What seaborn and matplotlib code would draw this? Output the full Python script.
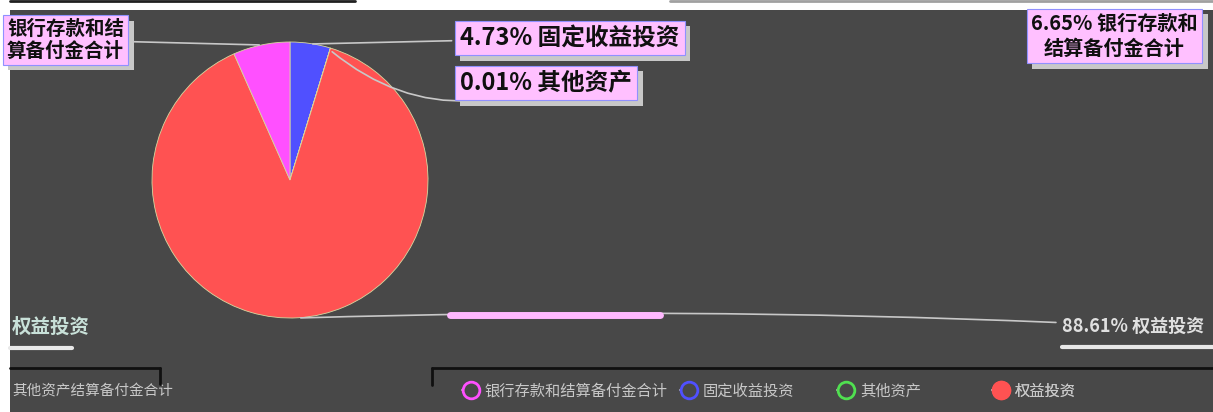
import matplotlib
matplotlib.use("Agg")
import matplotlib.pyplot as plt
import seaborn as sns
from matplotlib.lines import Line2D
from matplotlib import patheffects as pe

sns.set_theme(style="dark")
plt.rcParams['font.family'] = ['Noto Sans CJK SC', 'DejaVu Sans']

# ---- data ----
categories = ["固定收益投资", "其他资产", "权益投资", "银行存款和结算备付金合计"]
values = [4.73, 0.01, 88.61, 6.65]
colors = ["#5050ff", "#50e050", "#ff5252", "#ff50ff"]
legend_order = ["银行存款和结算备付金合计", "固定收益投资", "其他资产", "权益投资"]
legend_x = [462, 680, 837, 992]

W, H = 1213, 412
BG = "#484848"
fig = plt.figure(figsize=(W / 100, H / 100), dpi=100, facecolor="white")
ax = fig.add_axes([10 / W, 0, (W - 10) / W, (H - 10) / H])

cx, cy, r = 290, 232, 138
wedges, _ = ax.pie(values, colors=colors, startangle=90, counterclock=False,
                   center=(cx, cy), radius=r,
                   wedgeprops=dict(edgecolor="#d8d8a0", linewidth=0.6))
ax.set_frame_on(True)
ax.patch.set_visible(True)
ax.set_facecolor(BG)
for s in ax.spines.values():
    s.set_visible(False)
ax.set_xticks([]); ax.set_yticks([])
ax.set_xlim(10, W); ax.set_ylim(0, H - 10)
ax.set_aspect("equal", adjustable="box")

box = dict(boxstyle="square,pad=0.22", fc="#ffc0ff", ec="#9090ff", lw=0.8)
shadow = [pe.withSimplePatchShadow(offset=(4, -4), shadow_rgbFace="#c8c8c8", alpha=1)]
line_kw = dict(arrowstyle="-", color="#c8c8c8", lw=1.2)
FS = 17

def label(text, xy, xytext, ha, rad=0.0, fs=FS):
    t = ax.annotate(text, xy=xy, xytext=xytext, ha=ha, va="center",
                    fontsize=fs, fontweight="bold", color="#101010",
                    multialignment="center", bbox=box, annotation_clip=False,
                    arrowprops=dict(connectionstyle=f"arc3,rad={rad}", **line_kw))
    t.get_bbox_patch().set_path_effects(shadow)
    return t

label(f"{values[0]:.2f}% {categories[0]}", (310, 368), (460, 374), "left")
label(f"{values[1]:.2f}% {categories[1]}", (330, 362), (460, 329), "left", rad=-0.3)
label("银行存款和结\n算备付金合计", (262, 367), (124, 372), "right", fs=14)
t = ax.text(1031, 376, f"{values[3]:.2f}% 银行存款和\n结算备付金合计", ha="left", va="center",
            fontsize=14.5, fontweight="bold", color="#101010", multialignment="center", bbox=box)
t.get_bbox_patch().set_path_effects(shadow)

# equity label at bottom right
ax.annotate(f"{values[2]:.2f}% {categories[2]}", xy=(298, 94), xytext=(1062, 86),
            ha="left", va="center", fontsize=13, fontweight="bold", color="#e0e0e0",
            arrowprops=dict(connectionstyle="arc3,rad=0.02", **line_kw), annotation_clip=False)
ax.text(12, 85, categories[2], ha="left", va="center", fontsize=14, fontweight="bold",
        color="#c8e0d8")

# underlines / fragments
fig.add_artist(Line2D([1062 / W, 1], [1 - 347 / H] * 2, color="#e8e8e8", lw=3))
fig.add_artist(Line2D([10 / W, 72 / W], [1 - 348 / H] * 2, color="#e8e8e8", lw=3))
fig.add_artist(Line2D([450 / W, 660 / W], [1 - 315 / H] * 2, color="#ffb8ff", lw=5))

# top border lines
fig.add_artist(Line2D([10 / W, 355 / W], [1 - 1 / H] * 2, color="#202020", lw=2))
fig.add_artist(Line2D([670 / W, 1], [1 - 1 / H] * 2, color="#a0a0a0", lw=2))

# legend frame lines
fig.add_artist(Line2D([10 / W, 160 / W], [1 - 368 / H] * 2, color="#101010", lw=2))
fig.add_artist(Line2D([160 / W] * 2, [1 - 368 / H, 1 - 384 / H], color="#101010", lw=2))
fig.add_artist(Line2D([432 / W, 1], [1 - 368 / H] * 2, color="#101010", lw=2))
fig.add_artist(Line2D([432 / W] * 2, [1 - 368 / H, 1 - 385 / H], color="#101010", lw=2))

cmap = dict(zip(categories, colors))
for name, x in zip(legend_order, legend_x):
    filled = (name == "权益投资")
    h = Line2D([], [], marker="o", ls="-", color="#b0b0b0", lw=1.5, markersize=12,
               markerfacecolor=cmap[name] if filled else BG,
               markeredgecolor=cmap[name], markeredgewidth=2)
    lg = ax.legend([h], [name], loc="center left", bbox_to_anchor=(x, 21),
                   bbox_transform=ax.transData, frameon=False, fontsize=11,
                   handlelength=1.2, handletextpad=0.3, borderpad=0, borderaxespad=0,
                   labelcolor="#c8c8c8")
    ax.add_artist(lg)
ax.text(12, 21, "其他资产结算备付金合计", ha="left", va="center", fontsize=10.5, color="#c8c8c8")

fig.savefig("out.png", dpi=100, facecolor="white")
